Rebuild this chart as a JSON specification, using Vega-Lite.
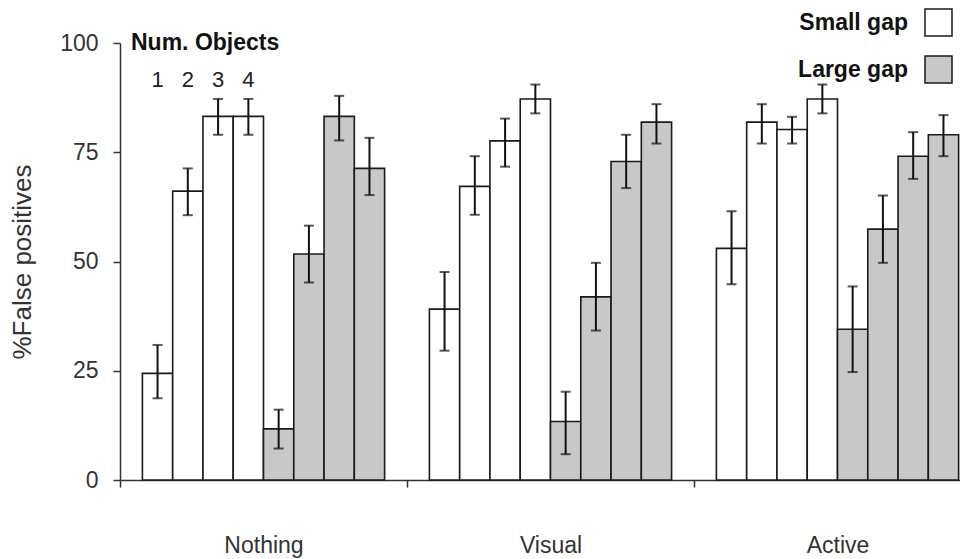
{
  "$schema": "https://vega.github.io/schema/vega-lite/v6.json",
  "width": 840,
  "height": 437,
  "autosize": {"type": "none"},
  "padding": {"left": 120, "top": 43, "right": 0, "bottom": 79},
  "background": "white",
  "config": {"view": {"stroke": null}, "font": "Liberation Sans"},
  "data": {
    "values": [
      {"group": "Nothing", "gap": "Small gap", "n": 1, "key": "S1", "value": 24.4, "lo": 18.7, "hi": 30.9},
      {"group": "Nothing", "gap": "Small gap", "n": 2, "key": "S2", "value": 66.1, "lo": 60.6, "hi": 71.3},
      {"group": "Nothing", "gap": "Small gap", "n": 3, "key": "S3", "value": 83.2, "lo": 79.0, "hi": 87.2},
      {"group": "Nothing", "gap": "Small gap", "n": 4, "key": "S4", "value": 83.2, "lo": 79.0, "hi": 87.2},
      {"group": "Nothing", "gap": "Large gap", "n": 1, "key": "L1", "value": 11.7, "lo": 7.2, "hi": 16.1},
      {"group": "Nothing", "gap": "Large gap", "n": 2, "key": "L2", "value": 51.7, "lo": 45.2, "hi": 58.2},
      {"group": "Nothing", "gap": "Large gap", "n": 3, "key": "L3", "value": 83.2, "lo": 77.7, "hi": 87.9},
      {"group": "Nothing", "gap": "Large gap", "n": 4, "key": "L4", "value": 71.3, "lo": 65.2, "hi": 78.3},
      {"group": "Visual", "gap": "Small gap", "n": 1, "key": "S1", "value": 39.1, "lo": 29.6, "hi": 47.6},
      {"group": "Visual", "gap": "Small gap", "n": 2, "key": "S2", "value": 67.2, "lo": 60.7, "hi": 74.1},
      {"group": "Visual", "gap": "Small gap", "n": 3, "key": "S3", "value": 77.6, "lo": 71.7, "hi": 82.7},
      {"group": "Visual", "gap": "Small gap", "n": 4, "key": "S4", "value": 87.2, "lo": 83.9, "hi": 90.5},
      {"group": "Visual", "gap": "Large gap", "n": 1, "key": "L1", "value": 13.4, "lo": 5.9, "hi": 20.2},
      {"group": "Visual", "gap": "Large gap", "n": 2, "key": "L2", "value": 41.9, "lo": 34.2, "hi": 49.7},
      {"group": "Visual", "gap": "Large gap", "n": 3, "key": "L3", "value": 72.9, "lo": 66.8, "hi": 79.0},
      {"group": "Visual", "gap": "Large gap", "n": 4, "key": "L4", "value": 81.9, "lo": 77.0, "hi": 86.0},
      {"group": "Active", "gap": "Small gap", "n": 1, "key": "S1", "value": 53.0, "lo": 44.8, "hi": 61.5},
      {"group": "Active", "gap": "Small gap", "n": 2, "key": "S2", "value": 81.9, "lo": 77.0, "hi": 86.0},
      {"group": "Active", "gap": "Small gap", "n": 3, "key": "S3", "value": 80.2, "lo": 77.0, "hi": 83.1},
      {"group": "Active", "gap": "Small gap", "n": 4, "key": "S4", "value": 87.2, "lo": 83.9, "hi": 90.5},
      {"group": "Active", "gap": "Large gap", "n": 1, "key": "L1", "value": 34.5, "lo": 24.7, "hi": 44.3},
      {"group": "Active", "gap": "Large gap", "n": 2, "key": "L2", "value": 57.4, "lo": 49.7, "hi": 65.1},
      {"group": "Active", "gap": "Large gap", "n": 3, "key": "L3", "value": 74.1, "lo": 68.9, "hi": 79.6},
      {"group": "Active", "gap": "Large gap", "n": 4, "key": "L4", "value": 79.0, "lo": 74.1, "hi": 83.5}
    ]
  },
  "encoding": {
    "x": {
      "field": "group", "type": "nominal", "sort": ["Nothing", "Visual", "Active"],
      "scale": {"domain": ["Nothing", "Visual", "Active"], "range": [0, 861], "paddingInner": 0, "paddingOuter": 0},
      "axis": {
        "title": null, "labelAngle": 0, "tickBand": "extent", "tickSize": 7, "labelPadding": 47,
        "labelFontSize": 23, "labelColor": "#333", "domainColor": "#333", "tickColor": "#333",
        "domainWidth": 1.5, "tickWidth": 1.5, "grid": false
      }
    },
    "xOffset": {
      "field": "key", "type": "nominal",
      "scale": {"domain": ["S1", "S2", "S3", "S4", "L1", "L2", "L3", "L4"], "paddingInner": 0, "paddingOuter": 0.74}
    }
  },
  "layer": [
    {
      "mark": {"type": "bar", "stroke": "#1a1a1a", "strokeWidth": 1.6},
      "encoding": {
        "y": {
          "field": "value", "type": "quantitative",
          "scale": {"domain": [0, 100], "nice": false},
          "axis": {
            "values": [0, 25, 50, 75, 100], "title": "%False positives",
            "titleFontSize": 26, "titleFontWeight": "normal", "titleColor": "#333", "titlePadding": 24,
            "labelFontSize": 23, "labelColor": "#333", "labelPadding": 15, "tickSize": 7,
            "tickColor": "#333", "domainColor": "#333", "tickWidth": 1.5, "domainWidth": 1.5, "grid": false
          }
        },
        "fill": {
          "field": "gap", "type": "nominal",
          "scale": {"domain": ["Small gap", "Large gap"], "range": ["#ffffff", "#c8c8c8"]},
          "legend": {
            "orient": "none", "legendX": 804, "legendY": -35, "title": null,
            "symbolType": "square", "symbolSize": 729, "symbolStrokeColor": "#1a1a1a",
            "symbolStrokeWidth": 1.5, "symbolOpacity": 1,
            "labelAlign": "right", "labelOffset": -45, "labelFontWeight": "bold",
            "labelFontSize": 23, "labelColor": "#111", "rowPadding": 14, "labelLimit": 0
          }
        }
      }
    },
    {
      "mark": {"type": "rule", "color": "#111", "strokeWidth": 2},
      "encoding": {
        "y": {"field": "lo", "type": "quantitative"},
        "y2": {"field": "hi"}
      }
    },
    {
      "mark": {"type": "tick", "color": "#111", "size": 10, "thickness": 2},
      "encoding": {"y": {"field": "hi", "type": "quantitative"}}
    },
    {
      "mark": {"type": "tick", "color": "#111", "size": 10, "thickness": 2},
      "encoding": {"y": {"field": "lo", "type": "quantitative"}}
    },
    {
      "transform": [{"filter": "datum.group === 'Nothing' && datum.gap === 'Small gap'"}],
      "mark": {"type": "text", "fontSize": 22, "color": "#222", "baseline": "middle"},
      "encoding": {
        "y": {"datum": 91.5, "type": "quantitative"},
        "text": {"field": "n", "type": "nominal"}
      }
    },
    {
      "data": {"values": [{"label": "Num. Objects", "group": "Nothing"}]},
      "mark": {"type": "text", "fontSize": 23, "fontWeight": "bold", "color": "#111", "baseline": "middle", "align": "left", "dx": 11},
      "encoding": {
        "x": {"field": "group", "type": "nominal", "bandPosition": 0},
        "xOffset": null,
        "y": {"datum": 100, "type": "quantitative"},
        "text": {"field": "label", "type": "nominal"}
      }
    }
  ]
}
